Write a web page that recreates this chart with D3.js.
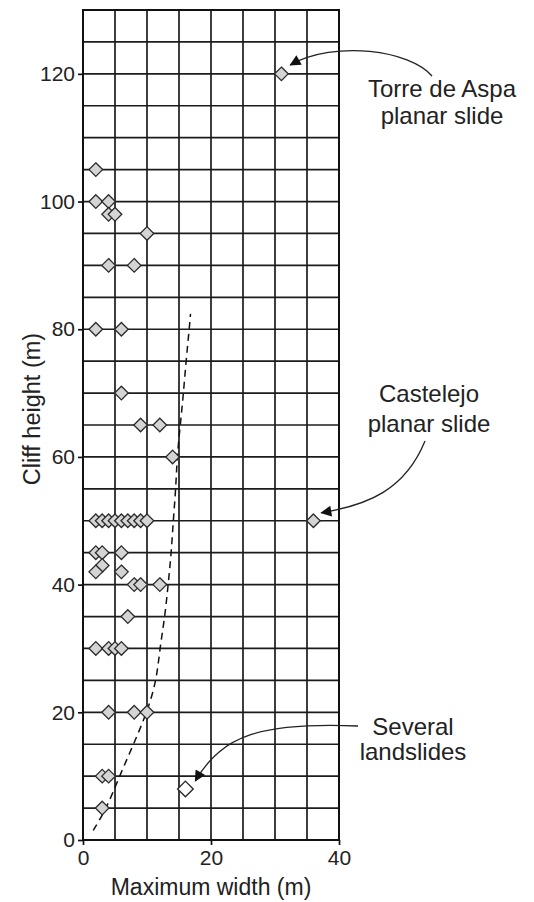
<!DOCTYPE html>
<html>
<head>
<meta charset="utf-8">
<script src="https://cdn.jsdelivr.net/npm/d3@7"></script>
<style>
  html, body { margin: 0; padding: 0; background: #fff; }
  svg { display: block; font-family: "Liberation Sans", Arial, Helvetica, sans-serif; }
</style>
</head>
<body>
<svg id="chart" width="534" height="902"></svg>
<script>
// Cliff height vs maximum landslide width
const widths  = [31, 2, 2, 4, 4, 5, 10, 4, 8, 2, 6, 6, 9, 12, 14,
                 2, 3, 4, 5, 6, 7, 8, 9, 10, 36,
                 2, 3, 6, 3, 2, 6, 8, 9, 12, 7,
                 2, 4, 5, 6, 4, 8, 10, 3, 4, 3];
const heights = [120, 105, 100, 100, 98, 98, 95, 90, 90, 80, 80, 70, 65, 65, 60,
                 50, 50, 50, 50, 50, 50, 50, 50, 50, 50,
                 45, 45, 45, 43, 42, 42, 40, 40, 40, 35,
                 30, 30, 30, 30, 20, 20, 20, 10, 10, 5];

// Grouped case shown with an open marker
const groupWidth = [16];
const groupHeight = [8];

// Trend (dashed) line
const trendWidth  = [1.6, 3.7, 5.7, 7.9, 10, 11.5, 12, 12.8, 13.3, 13.8, 14.1, 14.5, 14.7, 15.2, 15.7, 16.1, 16.6, 16.8];
const trendHeight = [1.5, 5, 10, 15, 20, 25, 30, 35, 40, 45, 50, 55, 60, 65, 70, 75, 80, 82.4];

const xTicks = [0, 20, 40];
const yTicks = [0, 20, 40, 60, 80, 100, 120];

const svg = d3.select("#chart");
const x = d3.scaleLinear().domain([0, 40]).range([83, 339]);
const y = d3.scaleLinear().domain([0, 130]).range([840, 10]);

// arrowhead marker
svg.append("defs").append("marker")
  .attr("id", "head")
  .attr("viewBox", "0 0 10 10")
  .attr("refX", 9).attr("refY", 5)
  .attr("markerWidth", 15).attr("markerHeight", 11)
  .attr("markerUnits", "userSpaceOnUse")
  .attr("orient", "auto")
  .append("path").attr("d", "M0,0 L10,5 L0,10 Z").attr("fill", "#111");

// grid
const grid = svg.append("g").attr("stroke", "#1c1c1c").attr("stroke-width", 1.7);
grid.selectAll("line.v").data(d3.range(0, 41, 5)).join("line")
  .attr("x1", d => x(d)).attr("x2", d => x(d))
  .attr("y1", y(0)).attr("y2", y(130));
grid.selectAll("line.h").data(d3.range(0, 131, 5)).join("line")
  .attr("x1", x(0)).attr("x2", x(40))
  .attr("y1", d => y(d)).attr("y2", d => y(d));
svg.append("rect")
  .attr("x", x(0)).attr("y", y(130))
  .attr("width", x(40) - x(0)).attr("height", y(0) - y(130))
  .attr("fill", "none").attr("stroke", "#111").attr("stroke-width", 2);

// axes
const yAxis = svg.append("g").attr("transform", `translate(${x(0)},0)`)
  .call(d3.axisLeft(y).tickValues(yTicks).tickSize(5).tickPadding(3));
const xAxis = svg.append("g").attr("transform", `translate(0,${y(0)})`)
  .call(d3.axisBottom(x).tickValues(xTicks).tickSize(5).tickPadding(5));
[xAxis, yAxis].forEach(a => {
  a.select(".domain").remove();
  a.selectAll(".tick line").attr("stroke", "#111").attr("stroke-width", 1.7);
  a.selectAll(".tick text").attr("fill", "#222")
    .style("font-size", "21px").style("font-family", "Liberation Sans, Arial, sans-serif");
});

// axis titles
svg.append("text")
  .attr("x", (x(0) + x(40)) / 2).attr("y", 895)
  .attr("text-anchor", "middle").attr("fill", "#222")
  .style("font-size", "23px")
  .text("Maximum width (m)");
svg.append("text")
  .attr("transform", `translate(40,${y(67.5)}) rotate(-90)`)
  .attr("text-anchor", "middle").attr("fill", "#222")
  .style("font-size", "23.5px")
  .text("Cliff height (m)");

// trend line
const line = d3.line().x(d => x(d[0])).y(d => y(d[1])).curve(d3.curveBasis);
svg.append("path")
  .datum(d3.zip(trendWidth, trendHeight))
  .attr("d", line)
  .attr("fill", "none").attr("stroke", "#111")
  .attr("stroke-width", 1.5).attr("stroke-dasharray", "7,5");

// markers
const diamond = r => `M0,${-r} L${r},0 L0,${r} L${-r},0 Z`;
svg.append("g").selectAll("path")
  .data(d3.zip(widths, heights)).join("path")
  .attr("transform", d => `translate(${x(d[0])},${y(d[1])})`)
  .attr("d", diamond(6.8))
  .attr("fill", "#d4d4d4").attr("stroke", "#2a2a2a").attr("stroke-width", 1.3);
svg.append("g").selectAll("path")
  .data(d3.zip(groupWidth, groupHeight)).join("path")
  .attr("transform", d => `translate(${x(d[0])},${y(d[1])})`)
  .attr("d", diamond(7.8))
  .attr("fill", "#fff").attr("stroke", "#2a2a2a").attr("stroke-width", 1.4);

// annotations
const notes = [
  { lines: ["Torre de Aspa", "planar slide"], tx: 442, ty: 97, dy: 26.5,
    path: (px, py) => `M432,76 C410,50 335,40 ${px + 9},${py - 9}`, pt: [31, 120] },
  { lines: ["Castelejo", "planar slide"], tx: 429, ty: 402, dy: 30,
    path: (px, py) => `M425,441 C405,490 368,505 ${px + 8},${py - 8}`, pt: [36, 50] },
  { lines: ["Several", "landslides"], tx: 413, ty: 735, dy: 25,
    path: (px, py) => `M358,726 C262,722 222,735 ${px + 10},${py - 8}`, pt: [16, 8] }
];
notes.forEach(n => {
  const t = svg.append("text").attr("text-anchor", "middle").attr("fill", "#222")
    .style("font-size", "24px");
  n.lines.forEach((s, i) => t.append("tspan").attr("x", n.tx).attr("y", n.ty + i * n.dy).text(s));
  svg.append("path")
    .attr("d", n.path(x(n.pt[0]), y(n.pt[1])))
    .attr("fill", "none").attr("stroke", "#222").attr("stroke-width", 1.3)
    .attr("marker-end", "url(#head)");
});
</script>
</body>
</html>
